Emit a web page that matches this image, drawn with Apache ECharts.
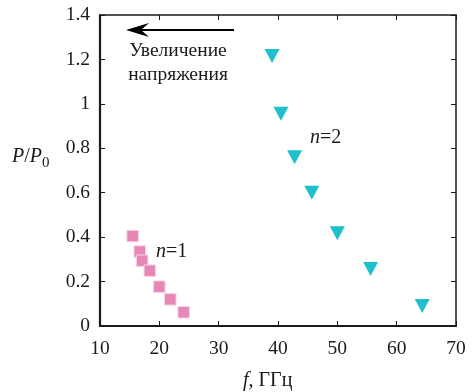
<!DOCTYPE html>
<html><head><meta charset="utf-8">
<script src="https://cdn.jsdelivr.net/npm/echarts@6/dist/echarts.min.js"></script>
<style>html,body{margin:0;padding:0;background:#fff}#c{width:472px;height:392px}</style>
</head><body><div id="c"></div>
<script>
var n1X = [15.5, 16.7, 17.1, 18.4, 20.0, 21.85, 24.1];
var n1Y = [0.405, 0.335, 0.294, 0.249, 0.177, 0.12, 0.062];
var n2X = [39.0, 40.5, 42.8, 45.7, 50.0, 55.6, 64.3];
var n2Y = [1.215, 0.955, 0.76, 0.60, 0.417, 0.257, 0.09];
var xTicks = [10, 20, 30, 40, 50, 60, 70];
var yTicks = [0, 0.2, 0.4, 0.6, 0.8, 1, 1.2, 1.4];

var F = '"Liberation Serif", "Times New Roman", serif';
var chart = echarts.init(document.getElementById('c'));
function pairs(xs, ys){ return xs.map(function(x,i){return [x, ys[i]];}); }
function axisBase(w){ return {
  axisLine:{show:true,onZero:false,lineStyle:{color:'#1a1a1a',width:w}},
  axisTick:{show:true,inside:true,length:5,lineStyle:{color:'#1a1a1a',width:1}},
  splitLine:{show:false}
};}
var lab = {fontFamily:F,fontSize:19.5,color:'#1a1a1a'};
chart.setOption({
  animation:false,
  backgroundColor:'#fff',
  textStyle:{fontFamily:F},
  grid:{left:100,right:16,top:15,bottom:66},
  xAxis:[
    Object.assign({type:'value',min:xTicks[0],max:xTicks[xTicks.length-1],interval:10,position:'bottom',
      axisLabel:Object.assign({margin:13},lab)}, axisBase(2.2)),
    Object.assign({type:'value',min:xTicks[0],max:xTicks[xTicks.length-1],interval:10,position:'top',
      axisLabel:{show:false}}, axisBase(1.5))
  ],
  yAxis:[
    Object.assign({type:'value',min:yTicks[0],max:yTicks[yTicks.length-1],interval:0.2,position:'left',
      axisLabel:Object.assign({margin:10},lab)}, axisBase(2.2)),
    Object.assign({type:'value',min:yTicks[0],max:yTicks[yTicks.length-1],interval:0.2,position:'right',
      axisLabel:{show:false}}, axisBase(1.5))
  ],
  series:[
    {type:'scatter',data:pairs(n1X,n1Y),symbol:'rect',symbolSize:11.5,
     itemStyle:{color:'#e687b8',borderColor:'#f7d3e6',borderWidth:1,opacity:1}},
    {type:'scatter',data:pairs(n2X,n2Y),symbol:'triangle',symbolSize:[15,14],symbolRotate:180,
     itemStyle:{color:'#1fbfcb',opacity:1}}
  ],
  graphic:[
    {type:'line',shape:{x1:140,y1:30,x2:234,y2:30},style:{stroke:'#000',lineWidth:2}},
    {type:'polygon',shape:{points:[[126,30],[149,23],[141,30],[149,37]]},style:{fill:'#000'}},
    {type:'text',style:{text:'Увеличение',x:178,y:51,align:'center',verticalAlign:'middle',font:'19.5px "Liberation Serif"',fill:'#1a1a1a'}},
    {type:'text',style:{text:'напряжения',x:178,y:75,align:'center',verticalAlign:'middle',font:'19.5px "Liberation Serif"',fill:'#1a1a1a'}},
    {type:'text',style:{rich:{i:{fontFamily:F,fontStyle:'italic',fontSize:20,fill:'#1a1a1a'},n:{fontFamily:F,fontSize:20,fill:'#1a1a1a'}},text:'{i|n}{n|=1}',x:156,y:252,verticalAlign:'middle'}},
    {type:'text',style:{rich:{i:{fontFamily:F,fontStyle:'italic',fontSize:20,fill:'#1a1a1a'},n:{fontFamily:F,fontSize:20,fill:'#1a1a1a'}},text:'{i|n}{n|=2}',x:310,y:138,verticalAlign:'middle'}},
    {type:'text',style:{rich:{i:{fontFamily:F,fontStyle:'italic',fontSize:20,fill:'#1a1a1a'},n:{fontFamily:F,fontSize:20,fill:'#1a1a1a'},s:{fontFamily:F,fontSize:15,fill:'#1a1a1a',padding:[12,0,0,0]}},text:'{i|P}{n|/}{i|P}{s|0}',x:12,y:157,verticalAlign:'middle'}},
    {type:'text',style:{rich:{i:{fontFamily:F,fontStyle:'italic',fontSize:20,fill:'#1a1a1a'},n:{fontFamily:F,fontSize:20,fill:'#1a1a1a'}},text:'{i|f}{n|, ГГц}',x:243,y:381,verticalAlign:'middle'}}
  ]
});
</script></body></html>
